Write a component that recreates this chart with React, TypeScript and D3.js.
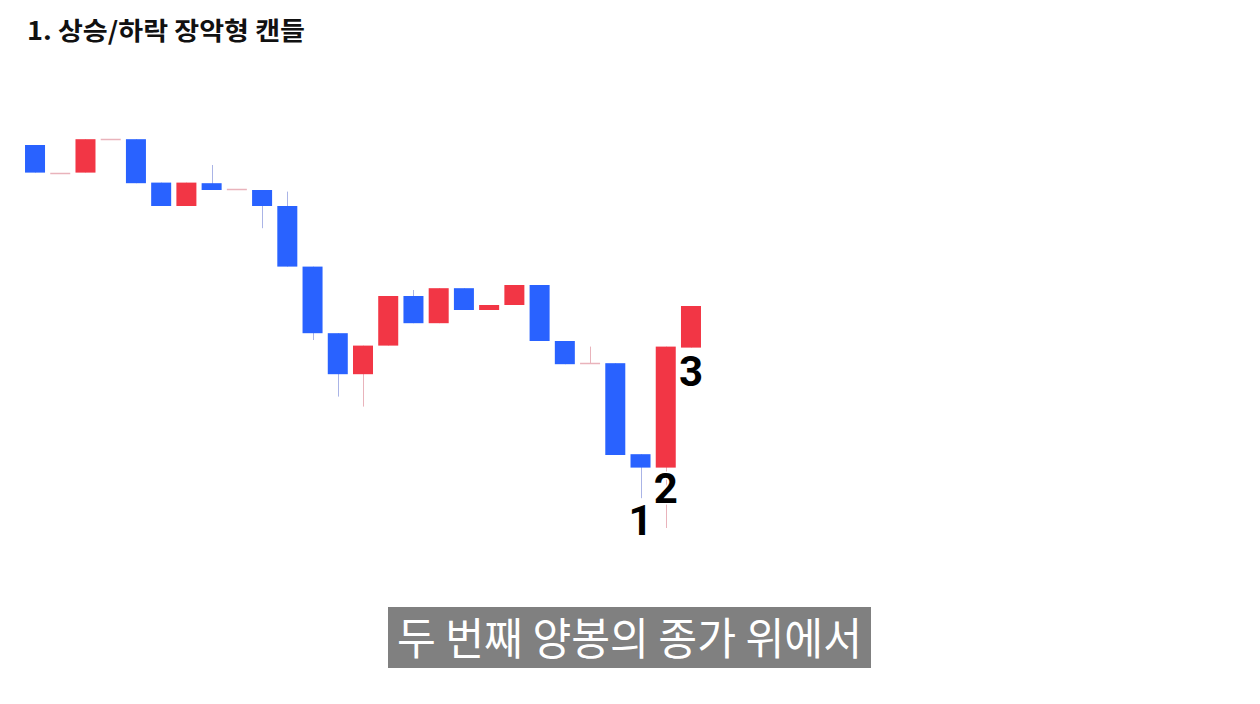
import React from 'react';
import * as d3 from 'd3';

interface Candle {
  open: number;
  high: number;
  low: number;
  close: number;
}

// price series (arbitrary price units)
const opens = [227.5, 213.75, 213.7, 230.3, 230.4, 208.7, 197, 208.4, 205.3, 205, 197, 166.7, 133.4, 112.9, 127.2, 152, 138.4, 155.9, 145, 147.5, 157.5, 129.5, 118.3, 118.4, 72.9, 66.2, 126.2];
const closes = [213.7, 213.75, 230.4, 230.3, 208.4, 197, 208.7, 205, 205.3, 197, 166.7, 133.4, 112.9, 127.2, 152, 138.4, 155.9, 145, 147.5, 157.5, 129.5, 117.9, 118.3, 72.5, 66.2, 126.7, 147];
const highs = [227.5, 213.75, 230.4, 230.3, 230.4, 208.7, 208.7, 217.5, 205.3, 205, 204.2, 166.7, 133.4, 127.2, 152, 155, 155.9, 155.9, 147.5, 157.5, 157.5, 129.5, 126.7, 118.4, 72.9, 126.7, 147];
const lows = [213.7, 213.75, 213.7, 230.3, 208.4, 197, 197, 205, 205.3, 185.9, 166.7, 130, 101.7, 96.7, 127.2, 138.4, 138.4, 145, 145, 147.5, 129.5, 117.9, 118.3, 72.5, 50.9, 36, 126.2];

const markers = [
  { index: 24, text: '1', price: 32.5 },
  { index: 25, text: '2', price: 48.5 },
  { index: 26, text: '3', price: 107 },
];

const title = '1. 상승/하락 장악형 캔들';
const caption = '두 번째 양봉의 종가 위에서';

const candles: Candle[] = opens.map((o, i) => ({
  open: o,
  high: highs[i],
  low: lows[i],
  close: closes[i],
}));

const UP = '#f23645';
const DOWN = '#2962ff';
const UP_WICK = '#e9b3bb';
const DOWN_WICK = '#aab4e6';

export default function App() {
  const width = 1260;
  const height = 704;

  const x = d3
    .scaleBand<number>()
    .domain(candles.map((_, i) => i))
    .range([19.8, 706.2])
    .padding(0.207);

  const y = d3.scaleLinear().domain([0, 300]).range([600, 0]);

  const bw = x.bandwidth();

  return (
    <div style={{ position: 'fixed', left: 0, top: 0 }}>
      <svg width={width} height={height} style={{ display: 'block', background: '#fff' }}>
        <text
          x={27}
          y={40}
          fontFamily="'Noto Sans CJK KR', 'Noto Sans', sans-serif"
          fontWeight={700}
          fontSize={25}
          fill="#111"
          textLength={278}
          lengthAdjust="spacingAndGlyphs"
        >
          {title}
        </text>

        <g>
          {candles.map((d, i) => {
            const cx = (x(i) as number) + bw / 2;
            const up = d.close > d.open;
            const doji = Math.abs(d.close - d.open) < 0.3;
            const top = y(Math.max(d.open, d.close));
            const bot = y(Math.min(d.open, d.close));
            const wick = up || doji ? UP_WICK : DOWN_WICK;
            return (
              <g key={i}>
                {d.high - d.low > 0.3 && (
                  <line
                    x1={Math.round(cx) + 0.5}
                    x2={Math.round(cx) + 0.5}
                    y1={y(d.high)}
                    y2={y(d.low)}
                    stroke={wick}
                    strokeWidth={1}
                  />
                )}
                {doji ? (
                  <line
                    x1={x(i) as number}
                    x2={(x(i) as number) + bw}
                    y1={Math.round(top) + 0.5}
                    y2={Math.round(top) + 0.5}
                    stroke={UP_WICK}
                    strokeWidth={1.5}
                  />
                ) : (
                  <rect
                    x={x(i) as number}
                    y={top}
                    width={bw}
                    height={Math.max(1, bot - top)}
                    fill={up ? UP : DOWN}
                  />
                )}
              </g>
            );
          })}
        </g>

        <g>
          {markers.map((m) => (
            <text
              key={m.text}
              x={(x(m.index) as number) + bw / 2}
              y={y(m.price)}
              textAnchor="middle"
              fontFamily="Roboto, 'Noto Sans', sans-serif"
              fontWeight={700}
              fontSize={42}
              fill="#000"
              stroke="#fff"
              strokeWidth={3}
              paintOrder="stroke"
            >
              {m.text}
            </text>
          ))}
        </g>

        <rect x={388} y={607} width={483} height={61} fill="#808080" />
        <text
          x={397}
          y={655}
          fontFamily="'Noto Sans CJK KR', 'Noto Sans', sans-serif"
          fontWeight={400}
          fontSize={44}
          fill="#fff"
          textLength={465}
          lengthAdjust="spacingAndGlyphs"
        >
          {caption}
        </text>
      </svg>
    </div>
  );
}
